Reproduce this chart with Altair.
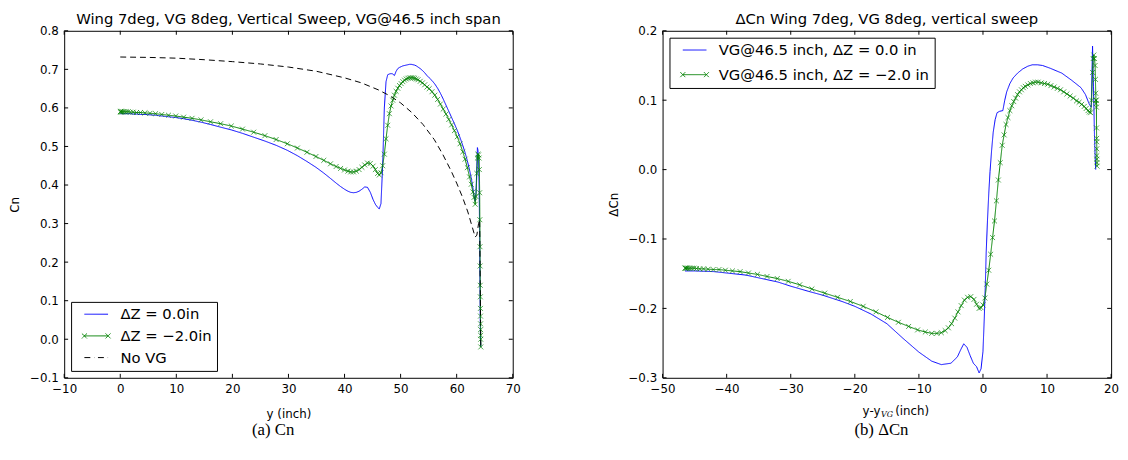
import altair as alt
import pandas as pd

# ---------------- data ----------------
VG_Y = 46.5

# spanwise stations (inch) shared by the two VG cases
stations = [0.0, 0.05, 0.15, 0.3, 0.5, 0.75, 1.05, 1.4, 1.8, 2.3, 2.9, 3.6, 4.4, 5.3, 6.3, 7.4,
            8.6, 9.9, 11.3, 12.8, 14.4, 16.1, 17.9, 19.8, 21.8, 23.8, 25.8, 27.8, 29.8, 31.6,
            33.3, 34.9, 36.3, 37.5, 38.5, 39.3, 40.0, 40.6, 41.1, 41.6, 42.1, 42.6, 43.1, 43.6,
            44.1, 44.6, 45.1, 45.5, 45.9, 46.2, 46.5, 46.8, 47.1, 47.4, 47.7, 48.0, 48.3, 48.6,
            48.9, 49.2, 49.5, 49.8, 50.1, 50.4, 50.7, 51.0, 51.3, 51.6, 51.9, 52.2, 52.5, 52.8,
            53.1, 53.5, 53.9, 54.3, 54.7, 55.1, 55.6, 56.1, 56.6, 57.1, 57.6, 58.1, 58.6, 59.1,
            59.6, 60.1, 60.6, 61.1, 61.5, 61.9, 62.3, 62.6, 62.9, 63.1, 63.3, 63.45, 63.6, 63.7,
            63.8, 63.9, 64.0, 64.05, 64.1, 64.13, 64.16, 64.18, 64.2, 64.22, 64.24, 64.25, 64.26,
            64.27, 64.28, 64.29, 64.3]

cn_dz0 = [0.585, 0.585, 0.585, 0.585, 0.585, 0.585, 0.585, 0.585, 0.585, 0.584, 0.584, 0.583,
          0.583, 0.582, 0.581, 0.579, 0.577, 0.575, 0.572, 0.568, 0.563, 0.557, 0.550, 0.543,
          0.534, 0.524, 0.514, 0.503, 0.490, 0.476, 0.461, 0.446, 0.431, 0.417, 0.405, 0.396,
          0.389, 0.384, 0.381, 0.380, 0.381, 0.384, 0.389, 0.395, 0.394, 0.381, 0.362, 0.350,
          0.342, 0.338, 0.352, 0.450, 0.600, 0.668, 0.686, 0.688, 0.689, 0.688, 0.684, 0.695,
          0.702, 0.705, 0.707, 0.709, 0.710, 0.711, 0.712, 0.713, 0.713, 0.712, 0.711, 0.709,
          0.706, 0.702, 0.697, 0.691, 0.684, 0.678, 0.671, 0.662, 0.651, 0.638, 0.623, 0.607,
          0.591, 0.575, 0.559, 0.542, 0.523, 0.502, 0.484, 0.463, 0.439, 0.418, 0.392, 0.372,
          0.358, 0.380, 0.450, 0.497, 0.490, 0.460, 0.400, 0.340, 0.260, 0.200, 0.140, 0.100,
          0.060, 0.030, 0.010, 0.000, -0.005, -0.010, -0.015, -0.018, -0.020]

cn_dzm2 = [0.590, 0.590, 0.590, 0.590, 0.590, 0.590, 0.590, 0.590, 0.589, 0.589, 0.588, 0.588,
           0.587, 0.586, 0.585, 0.583, 0.581, 0.579, 0.576, 0.573, 0.569, 0.564, 0.559, 0.553,
           0.545, 0.537, 0.528, 0.518, 0.507, 0.496, 0.485, 0.474, 0.464, 0.455, 0.448, 0.443,
           0.439, 0.436, 0.434, 0.434, 0.436, 0.440, 0.446, 0.452, 0.457, 0.456, 0.449, 0.440,
           0.430, 0.426, 0.432, 0.450, 0.480, 0.520, 0.555, 0.585, 0.605, 0.620, 0.633, 0.643,
           0.651, 0.658, 0.663, 0.668, 0.672, 0.675, 0.677, 0.678, 0.678, 0.678, 0.677, 0.675,
           0.673, 0.669, 0.665, 0.660, 0.654, 0.650, 0.642, 0.633, 0.622, 0.610, 0.597, 0.584,
           0.570, 0.556, 0.541, 0.525, 0.507, 0.486, 0.467, 0.445, 0.421, 0.402, 0.382, 0.368,
           0.350, 0.370, 0.430, 0.470, 0.480, 0.478, 0.470, 0.440, 0.380, 0.310, 0.240, 0.190,
           0.140, 0.110, 0.080, 0.060, 0.040, 0.025, 0.010, 0.000, -0.020]

novg_y = [0.0, 5.0, 10.0, 15.0, 20.0, 25.0, 30.0, 35.0, 40.0, 43.0, 46.0, 48.0, 50.0, 52.0,
          54.0, 56.0, 57.5, 59.0, 60.0, 61.0, 62.0, 62.8, 63.3, 63.6, 63.9, 64.1, 64.2, 64.3]
novg_cn = [0.732, 0.731, 0.729, 0.725, 0.720, 0.714, 0.706, 0.695, 0.678, 0.665, 0.647, 0.632,
           0.613, 0.588, 0.557, 0.518, 0.480, 0.437, 0.405, 0.370, 0.330, 0.290, 0.265, 0.270,
           0.300, 0.310, 0.150, -0.020]

# Delta Cn (right panel), dZ = -2.0 in, at the same stations
dcn_dzm2 = [-0.142, -0.142, -0.142, -0.142, -0.142, -0.142, -0.142, -0.142, -0.1425, -0.143,
            -0.143, -0.1435, -0.144, -0.144, -0.145, -0.146, -0.147, -0.149, -0.151, -0.154,
            -0.157, -0.161, -0.166, -0.172, -0.178, -0.184, -0.190, -0.197, -0.205, -0.213,
            -0.220, -0.226, -0.231, -0.234, -0.236, -0.236, -0.235, -0.232, -0.228, -0.222,
            -0.214, -0.205, -0.196, -0.188, -0.184, -0.183, -0.187, -0.194, -0.200, -0.199,
            -0.195, -0.185, -0.165, -0.145, -0.122, -0.098, -0.074, -0.045, -0.015, 0.010,
            0.035, 0.050, 0.065, 0.075, 0.085, 0.092, 0.098, 0.103, 0.108, 0.112, 0.115, 0.118,
            0.120, 0.122, 0.124, 0.125, 0.126, 0.126, 0.125, 0.124, 0.123, 0.121, 0.119, 0.117,
            0.115, 0.112, 0.109, 0.106, 0.103, 0.099, 0.097, 0.094, 0.091, 0.088, 0.085, 0.083,
            0.082, 0.100, 0.140, 0.160, 0.165, 0.160, 0.150, 0.130, 0.110, 0.100, 0.095, 0.100,
            0.090, 0.060, 0.045, 0.040, 0.030, 0.020, 0.015, 0.010, 0.005]

# Delta Cn (right panel), dZ = 0.0 in
dz0_offset = [-46.5, -45.0, -42.0, -40.0, -37.0, -35.0, -32.0, -30.0, -27.0, -25.0, -22.0,
              -20.0, -17.5, -15.0, -12.5, -10.0, -8.0, -6.5, -5.0, -4.0, -3.5, -3.0, -2.5, -2.0,
              -1.5, -1.0, -0.6, -0.3, 0.0, 0.2, 0.36, 0.5, 0.7, 0.9, 1.1, 1.35, 1.6, 1.9, 2.2,
              2.6, 3.1, 3.4, 3.7, 4.2, 4.7, 5.4, 6.2, 7.0, 7.7, 8.5, 9.3, 10.5, 12.3, 13.8, 15.3,
              16.0, 16.6, 16.9, 17.1, 17.25, 17.4, 17.5, 17.6]
dcn_dz0 = [-0.146, -0.146, -0.147, -0.149, -0.152, -0.156, -0.162, -0.168, -0.176, -0.181,
           -0.190, -0.197, -0.208, -0.222, -0.243, -0.263, -0.276, -0.281, -0.279, -0.270,
           -0.260, -0.251, -0.256, -0.268, -0.279, -0.284, -0.293, -0.287, -0.262, -0.215,
           -0.169, -0.120, -0.074, -0.035, -0.003, 0.028, 0.054, 0.072, 0.082, 0.084, 0.085,
           0.100, 0.112, 0.124, 0.132, 0.139, 0.145, 0.149, 0.151, 0.151, 0.150, 0.146, 0.139,
           0.129, 0.118, 0.108, 0.094, 0.090, 0.178, 0.120, 0.050, 0.020, 0.000]

LEFT_LABELS = ["\u0394Z = 0.0in", "\u0394Z = \u22122.0in", "No VG"]
RIGHT_LABELS = ["VG@46.5 inch, \u0394Z = 0.0 in", "VG@46.5 inch, \u0394Z = \u22122.0 in"]
COLORS = ["#0000ff", "#008000", "#000000"]

left_x_ticks = [-10, 0, 10, 20, 30, 40, 50, 60, 70]
left_y_ticks = [-0.1, 0.0, 0.1, 0.2, 0.3, 0.4, 0.5, 0.6, 0.7, 0.8]
right_x_ticks = [-50, -40, -30, -20, -10, 0, 10, 20]
right_y_ticks = [-0.3, -0.2, -0.1, 0.0, 0.1, 0.2]

# ---------------- styling helpers ----------------
W, H = 455, 352
TICK = 4
XMARK = "M-1,-1L1,1M-1,1L1,-1"
SYM_LINE = "M-2.4,0L2.4,0"
SYM_XLINE = ("M-2.4,0L2.4,0M-2.9,-0.5L-1.9,0.5M-2.9,0.5L-1.9,-0.5"
             "M1.9,-0.5L2.9,0.5M1.9,0.5L2.9,-0.5")
SYM_DASH = "M-2.4,0L-0.35,0M0.35,0L2.4,0"


def make_legend(orient, row_pad, pad):
    return alt.Legend(orient=orient, offset=7, title=None, strokeColor="black",
                      fillColor="white", padding=pad, cornerRadius=0, symbolSize=100,
                      symbolStrokeWidth=1, labelFont="DejaVu Sans", labelFontSize=15,
                      labelColor="black", rowPadding=row_pad, symbolOffset=13,
                      labelOffset=17, labelLimit=400)


def panel(lines_df, marks_df, labels, colors, dashes, sym_paths, xdom, ydom, xticks, yticks,
          xtitle, ytitle, title, legend_orient, row_pad, pad, caption, cap_x):
    xs = alt.Scale(domain=xdom, nice=False, zero=False)
    ys = alt.Scale(domain=ydom, nice=False, zero=False)
    x_enc = alt.X("x:Q", scale=xs, axis=alt.Axis(values=xticks, format="d", title=xtitle))
    y_enc = alt.Y("v:Q", scale=ys, axis=alt.Axis(values=yticks, format=".1f", title=ytitle))
    cscale = alt.Scale(domain=labels, range=colors)
    lg = make_legend(legend_orient, row_pad, pad)

    legend_layer = alt.Chart(lines_df).mark_point(filled=False, opacity=1, size=0,
                                                  strokeWidth=1).encode(
        x=x_enc, y=y_enc,
        color=alt.Color("series:N", scale=cscale, legend=lg),
        shape=alt.Shape("series:N", scale=alt.Scale(domain=labels, range=sym_paths), legend=lg),
    )
    lines = alt.Chart(lines_df).mark_line(strokeWidth=1).encode(
        x=x_enc, y=y_enc,
        color=alt.Color("series:N", scale=cscale, legend=lg),
        strokeDash=alt.StrokeDash("series:N", scale=alt.Scale(domain=labels, range=dashes),
                                  legend=None),
        order="i:Q",
    )
    marks = alt.Chart(marks_df).mark_point(shape=XMARK, filled=False, size=25, strokeWidth=0.7,
                                           opacity=1, color="#008000").encode(x=x_enc, y=y_enc)

    xt = pd.DataFrame({"x": xticks})
    yt = pd.DataFrame({"v": yticks})
    tick_layers = [
        alt.Chart(xt).mark_rule(color="black", strokeWidth=1).encode(
            x=x_enc, y=alt.value(0), y2=alt.value(TICK)),
        alt.Chart(xt).mark_rule(color="black", strokeWidth=1).encode(
            x=x_enc, y=alt.value(H), y2=alt.value(H - TICK)),
        alt.Chart(yt).mark_rule(color="black", strokeWidth=1).encode(
            y=y_enc, x=alt.value(0), x2=alt.value(TICK)),
        alt.Chart(yt).mark_rule(color="black", strokeWidth=1).encode(
            y=y_enc, x=alt.value(W), x2=alt.value(W - TICK)),
    ]
    cap = alt.Chart(pd.DataFrame({"t": [caption]})).mark_text(
        font="Liberation Serif", fontSize=17, align="center", baseline="alphabetic",
        color="black").encode(x=alt.value(cap_x), y=alt.value(H + 58), text="t:N")

    layers = [legend_layer, lines, marks] + tick_layers + [cap]
    return alt.layer(*layers).properties(
        width=W, height=H,
        title=alt.TitleParams(text=title, font="DejaVu Sans", fontSize=15, fontWeight="normal",
                              color="black", anchor="middle", offset=-2))


# ---------------- left panel ----------------
rows = []
for i, (s, v) in enumerate(zip(stations, cn_dz0)):
    rows.append({"x": s, "v": v, "series": LEFT_LABELS[0], "i": i})
for i, (s, v) in enumerate(zip(stations, cn_dzm2)):
    rows.append({"x": s, "v": v, "series": LEFT_LABELS[1], "i": i})
for i, (s, v) in enumerate(zip(novg_y, novg_cn)):
    rows.append({"x": s, "v": v, "series": LEFT_LABELS[2], "i": i})
left_lines = pd.DataFrame(rows)
left_marks = pd.DataFrame({"x": stations, "v": cn_dzm2})

left = panel(left_lines, left_marks, LEFT_LABELS, COLORS, [[1, 0], [1, 0], [6, 4]],
             [SYM_LINE, SYM_XLINE, SYM_DASH], [-10, 70], [-0.1, 0.8], left_x_ticks,
             left_y_ticks, "y (inch)", "Cn",
             "Wing 7deg, VG 8deg, Vertical Sweep, VG@46.5 inch span", "bottom-left", 6, 5,
             "(a)  Cn", 212)

# ---------------- right panel ----------------
offsets = [s - VG_Y for s in stations]
rows = []
for i, (s, v) in enumerate(zip(dz0_offset, dcn_dz0)):
    rows.append({"x": s, "v": v, "series": RIGHT_LABELS[0], "i": i})
for i, (s, v) in enumerate(zip(offsets, dcn_dzm2)):
    rows.append({"x": s, "v": v, "series": RIGHT_LABELS[1], "i": i})
right_lines = pd.DataFrame(rows)
right_marks = pd.DataFrame({"x": offsets, "v": dcn_dzm2})

right_base = panel(right_lines, right_marks, RIGHT_LABELS, COLORS[:2], [[1, 0], [1, 0]],
                   [SYM_LINE, SYM_XLINE], [-50, 20], [-0.3, 0.2], right_x_ticks, right_y_ticks,
                   " ", "\u0394Cn", "\u0394Cn Wing 7deg, VG 8deg, vertical sweep", "top-left",
                   9, 5, "(b)  \u0394Cn", 222)

# x-axis title of the right panel with a subscript
sub_layers = [
    alt.Chart(pd.DataFrame({"t": ["y-y"]})).mark_text(
        font="DejaVu Sans", fontSize=12, align="right", baseline="alphabetic", color="black"
    ).encode(x=alt.value(221), y=alt.value(H + 38), text="t:N"),
    alt.Chart(pd.DataFrame({"t": ["VG"]})).mark_text(
        font="DejaVu Serif", fontSize=8, fontStyle="italic", align="left",
        baseline="alphabetic", color="black"
    ).encode(x=alt.value(221.5), y=alt.value(H + 40), text="t:N"),
    alt.Chart(pd.DataFrame({"t": ["(inch)"]})).mark_text(
        font="DejaVu Sans", fontSize=12, align="left", baseline="alphabetic", color="black"
    ).encode(x=alt.value(236), y=alt.value(H + 38), text="t:N"),
]
right = alt.layer(right_base, *sub_layers)

chart = alt.hconcat(left, right, spacing=86).resolve_scale(
    color="independent", shape="independent", strokeDash="independent"
).resolve_legend(
    color="independent", shape="independent", strokeDash="independent"
).configure_view(
    stroke="black", strokeWidth=1
).configure_axis(
    ticks=False, domain=False, grid=False, labelFont="DejaVu Sans", labelFontSize=12,
    labelColor="black", titleFont="DejaVu Sans", titleFontSize=12, titleFontWeight="normal",
    titleColor="black", labelPadding=6, titlePadding=8, labelFlush=False, labelOverlap=False
).configure_axisX(
    labelPadding=6, titlePadding=14
).properties(padding={"left": 0, "top": 0, "right": 0, "bottom": 0})

chart.save("out.html", embed_options={"renderer": "svg", "actions": False})
